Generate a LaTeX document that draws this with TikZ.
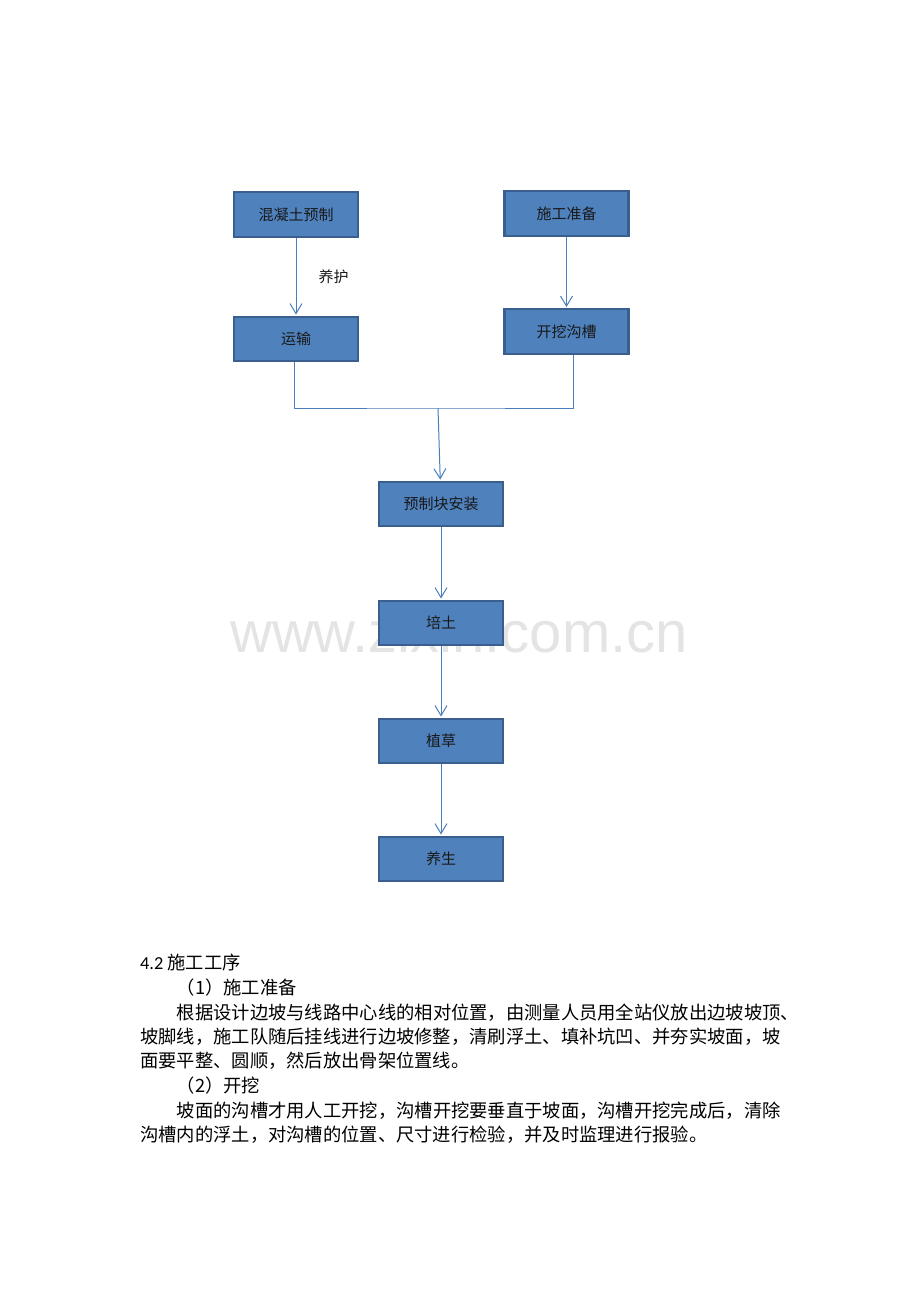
\documentclass[tikz,border=0pt]{standalone}
\usepackage{fontspec}
\setmainfont{Noto Sans CJK SC}
\newfontfamily\latinfont{Carlito}
\newfontfamily\markfont{Liberation Sans}
\usetikzlibrary{arrows.meta, positioning, backgrounds}

\definecolor{boxfill}{HTML}{4F81BD}
\definecolor{boxline}{HTML}{3A5F8E}
\definecolor{flowline}{HTML}{4A7EBB}
\definecolor{markgray}{HTML}{E4E4E4}

\begin{document}
\begin{tikzpicture}[
    x=1pt, y=-1pt,
    font=\fontsize{15}{18}\selectfont,
    % Styles
    stepbox/.style={
        draw=boxline, fill=boxfill, line width=2.4pt,
        minimum width=124pt, minimum height=44.5pt,
        inner sep=0pt, text=black!90
    },
    link/.style={draw=flowline, line width=1pt},
    flow/.style={link, -{Straight Barb[length=10pt, width=12pt]}, shorten >=1pt},
    note/.style={inner sep=0pt, text=black!90},
    bodyline/.style={
        anchor=west, inner sep=0pt, text height=0.88em, text depth=0.12em,
        font=\fontsize{18.3}{22}\selectfont
    },
    watermark/.style={font=\markfont\fontsize{58}{60}\selectfont, text=markgray, inner sep=0pt}
]
    \useasboundingbox (0,0) rectangle (920,1302);

    % --- Left branch ---
    \node[stepbox] (precast) at (296,214.5) {混凝土预制};
    \node[stepbox] (transport) at (296,339) {运输};

    % --- Right branch ---
    \node[stepbox] (prep) at (566.5,213.5) {施工准备};
    \node[stepbox] (trench) at (566.5,331.5) {开挖沟槽};

    % --- Main line ---
    \node[stepbox] (install) at (441,504) {预制块安装};
    \node[stepbox] (soil) at (441,623) {培土};
    \node[stepbox] (grass) at (441,741) {植草};
    \node[stepbox] (cure) at (441,859) {养生};

    % --- Connections ---
    \draw[flow] (precast) -- node[note, right=22pt] {养护} (transport);
    \draw[flow] (prep) -- (trench);

    % Merge of both branches
    \coordinate (merge) at (438,408);
    \draw[link] ([xshift=-2pt]transport.south) |- (merge) -| ([xshift=6.5pt]trench.south);
    \draw[flow] (merge) -- (install);

    \draw[flow] (install) -- (soil);
    \draw[flow] (soil) -- (grass);
    \draw[flow] (grass) -- (cure);

    % --- Text below ---
    \node[bodyline] (heading) at (140,966) {{\latinfont 4.2 }施工工序};
    \node[bodyline] (stepone) at (176.6,990.7) {（1）施工准备};
    \node[bodyline] (parafirst) at (176.6,1015.3) {根据设计边坡与线路中心线的相对位置，由测量人员用全站仪放出边坡坡顶、};
    \node[bodyline] (parasecond) at (140,1039.3) {坡脚线，施工队随后挂线进行边坡修整，清刷浮土、填补坑凹、并夯实坡面，坡};
    \node[bodyline] (parathird) at (140,1064) {面要平整、圆顺，然后放出骨架位置线。};
    \node[bodyline] (steptwo) at (176.6,1088.7) {（2）开挖};
    \node[bodyline] (parafourth) at (176.6,1113.3) {坡面的沟槽才用人工开挖，沟槽开挖要垂直于坡面，沟槽开挖完成后，清除};
    \node[bodyline] (parafifth) at (140,1137.7) {沟槽内的浮土，对沟槽的位置、尺寸进行检验，并及时监理进行报验。};

    % --- Watermark ---
    \begin{scope}[on background layer]
        \node[watermark, anchor=base] (mark) at (459,652) {www.zixin.com.cn};
    \end{scope}

\end{tikzpicture}
\end{document}
